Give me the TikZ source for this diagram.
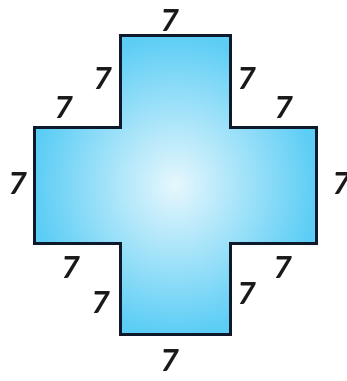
\documentclass[tikz,border=0pt]{standalone}
\usepackage{fontspec}
\setmainfont{Carlito}
\begin{document}
\begin{tikzpicture}[x=1bp,y=-1bp,
  lbl/.style={font=\fontsize{34}{34}\selectfont\bfseries\itshape, text=black!90, inner sep=0pt}]
\definecolor{edgeblue}{HTML}{5CCDF5}
\definecolor{midblue}{HTML}{E6F7FD}
\definecolor{outline}{HTML}{0E1A2B}
\useasboundingbox (0,0) rectangle (347,381);
\path[shading=radial, inner color=midblue, outer color=edgeblue]
  (120,35) -- (230,35) -- (230,127) -- (316,127) -- (316,243) -- (230,243) -- (230,334) -- (120,334) -- (120,243) -- (34,243) -- (34,127) -- (120,127) -- cycle;
\draw[outline, line width=3bp, line join=miter]
  (120,35) -- (230,35) -- (230,127) -- (316,127) -- (316,243) -- (230,243) -- (230,334) -- (120,334) -- (120,243) -- (34,243) -- (34,127) -- (120,127) -- cycle;
\node[lbl] (t) at (169,21) {7};
\node[lbl] (lu) at (102,79) {7};
\node[lbl] (ru) at (246,79) {7};
\node[lbl] (lh) at (63,108) {7};
\node[lbl] (rh) at (283,108) {7};
\node[lbl] (l) at (17,184) {7};
\node[lbl] (r) at (341,184) {7};
\node[lbl] (lb) at (70,268) {7};
\node[lbl] (rb) at (282,268) {7};
\node[lbl] (ll) at (100,303) {7};
\node[lbl] (rl) at (246,294) {7};
\node[lbl] (b) at (169,361) {7};
\end{tikzpicture}
\end{document}
